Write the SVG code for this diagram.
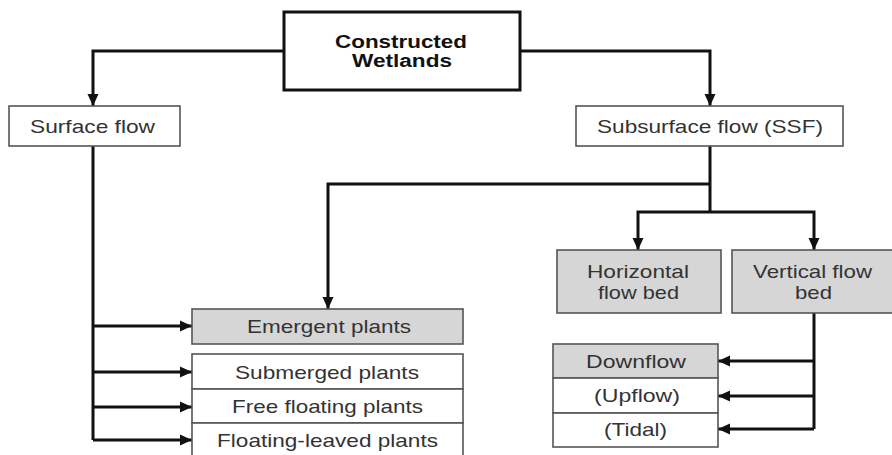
<svg xmlns="http://www.w3.org/2000/svg" width="892" height="455" viewBox="0 0 892 455">
<style>
.bx{fill:#fff;stroke:#555;stroke-width:1.6}
.gr{fill:#d6d6d6;stroke:#555;stroke-width:1.6}
.tt{font-family:"Liberation Sans",Arial,sans-serif;font-size:19px;fill:#333;text-anchor:middle}
.tb{font-family:"Liberation Sans",Arial,sans-serif;font-size:18px;font-weight:bold;fill:#111;text-anchor:middle}
.cn{fill:none;stroke:#111;stroke-width:3;marker-end:url(#ah)}
.ln{fill:none;stroke:#111;stroke-width:3}
</style>
<defs>
<marker id="ah" markerUnits="userSpaceOnUse" markerWidth="14" markerHeight="14" viewBox="0 0 14 14" refX="12" refY="7" orient="auto">
<path d="M0,1.5 L12,7 L0,12.5 Z" fill="#111"/>
</marker>
</defs>
<rect width="892" height="455" fill="#fff"/>
<g id="connectors">
<path class="cn" d="M283,51 H93 V106"/>
<path class="cn" d="M520,51 H710 V106"/>
<path class="ln" d="M93,146 V440"/>
<path class="cn" d="M93,326 H192"/>
<path class="cn" d="M93,372 H192"/>
<path class="cn" d="M93,407 H192"/>
<path class="cn" d="M93,440 H192"/>
<path class="ln" d="M710,146 V212"/>
<path class="cn" d="M710,184 H328 V309"/>
<path class="cn" d="M710,212 H638 V250"/>
<path class="cn" d="M710,212 H814 V250"/>
<path class="ln" d="M814,313 V429"/>
<path class="cn" d="M814,361 H718"/>
<path class="cn" d="M814,396 H718"/>
<path class="cn" d="M814,429 H718"/>
</g>
<g id="constructed-wetlands">
<rect x="284" y="12" width="236" height="78" fill="#fff" stroke="#111" stroke-width="3"/>
<text class="tb" x="401" y="48" textLength="132" lengthAdjust="spacingAndGlyphs">Constructed</text>
<text class="tb" x="402" y="67" textLength="100" lengthAdjust="spacingAndGlyphs">Wetlands</text>
</g>
<g id="surface-flow">
<rect class="bx" x="9" y="106" width="171" height="40"/>
<text class="tt" x="92.5" y="133" textLength="125" lengthAdjust="spacingAndGlyphs">Surface flow</text>
</g>
<g id="subsurface-flow">
<rect class="bx" x="576" y="106" width="267" height="40"/>
<text class="tt" x="710" y="133" textLength="226" lengthAdjust="spacingAndGlyphs">Subsurface flow (SSF)</text>
</g>
<g id="emergent-plants">
<rect class="gr" x="192" y="309" width="271" height="35"/>
<text class="tt" x="329" y="333" textLength="164" lengthAdjust="spacingAndGlyphs">Emergent plants</text>
</g>
<g id="submerged-plants">
<rect class="bx" x="192" y="354" width="271" height="35"/>
<text class="tt" x="327" y="379" textLength="184" lengthAdjust="spacingAndGlyphs">Submerged plants</text>
</g>
<g id="free-floating-plants">
<rect class="bx" x="192" y="389" width="271" height="34"/>
<text class="tt" x="327.5" y="413" textLength="191" lengthAdjust="spacingAndGlyphs">Free floating plants</text>
</g>
<g id="floating-leaved-plants">
<rect class="bx" x="192" y="423" width="271" height="36"/>
<text class="tt" x="327.5" y="447" textLength="221" lengthAdjust="spacingAndGlyphs">Floating-leaved plants</text>
</g>
<g id="horizontal-flow-bed">
<rect class="gr" x="557" y="250" width="164" height="63"/>
<text class="tt" x="638" y="278" textLength="102" lengthAdjust="spacingAndGlyphs">Horizontal</text>
<text class="tt" x="638.5" y="299" textLength="81" lengthAdjust="spacingAndGlyphs">flow bed</text>
</g>
<g id="vertical-flow-bed">
<rect class="gr" x="732" y="250" width="162" height="63"/>
<text class="tt" x="812.5" y="278" textLength="119" lengthAdjust="spacingAndGlyphs">Vertical flow</text>
<text class="tt" x="813.5" y="299" textLength="37" lengthAdjust="spacingAndGlyphs">bed</text>
</g>
<g id="downflow">
<rect class="gr" x="553" y="344" width="165" height="34"/>
<text class="tt" x="636" y="368" textLength="100" lengthAdjust="spacingAndGlyphs">Downflow</text>
</g>
<g id="upflow">
<rect class="bx" x="553" y="378" width="165" height="35"/>
<text class="tt" x="637" y="402" textLength="86" lengthAdjust="spacingAndGlyphs">(Upflow)</text>
</g>
<g id="tidal">
<rect class="bx" x="553" y="413" width="165" height="34"/>
<text class="tt" x="635.5" y="436" textLength="63" lengthAdjust="spacingAndGlyphs">(Tidal)</text>
</g>
</svg>
